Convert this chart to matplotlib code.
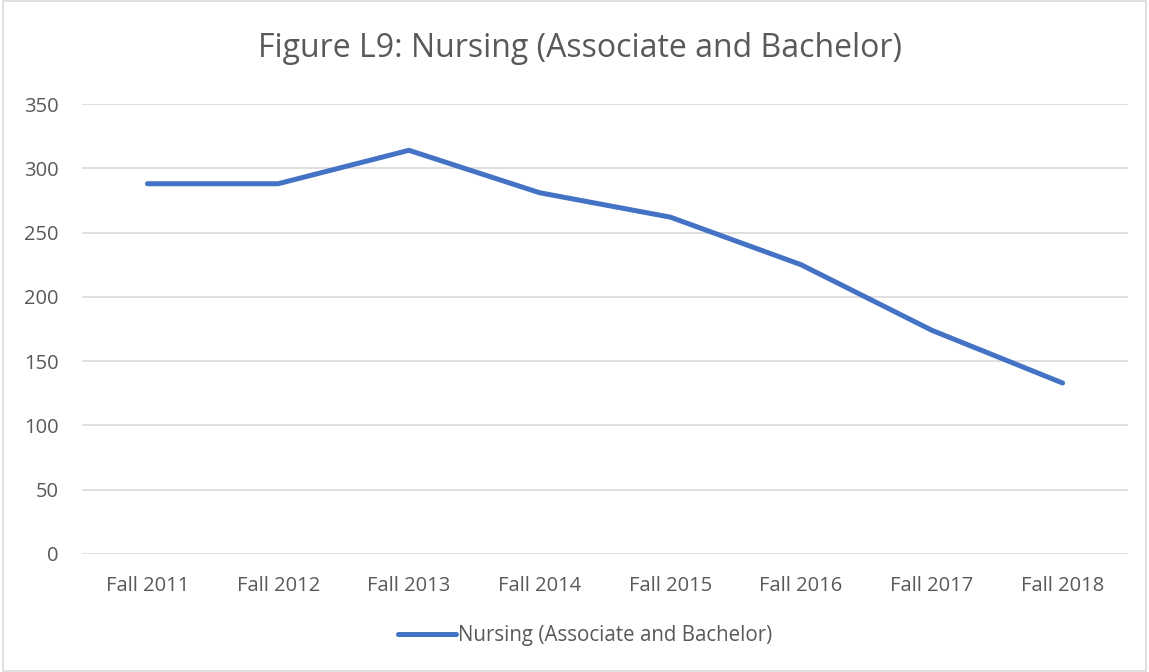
import matplotlib.pyplot as plt
from matplotlib.patches import Rectangle

plt.rcParams['font.family'] = ['Open Sans', 'DejaVu Sans']

# data
terms = ['Fall 2011', 'Fall 2012', 'Fall 2013', 'Fall 2014',
         'Fall 2015', 'Fall 2016', 'Fall 2017', 'Fall 2018']
nursing = [288, 288, 314, 281, 262, 225, 174, 133]
series_name = 'Nursing (Associate and Bachelor)'

text_col = '#595959'

fig = plt.figure(figsize=(11.49, 6.72), dpi=100)
ax = fig.add_axes([0.0714, 0.1756, 0.9103, 0.6696])

x = range(len(terms))
ax.plot(x, nursing, color='#4472C4', linewidth=3.6, solid_capstyle='round',
        label=series_name)

ax.set_xlim(-0.5, len(terms) - 0.5)
ax.set_ylim(0, 350)
ax.set_yticks(range(0, 351, 50))
ax.set_xticks(list(x))
ax.set_xticklabels(terms)
ax.grid(axis='y', color='#d9d9d9', linewidth=1.2)
ax.set_axisbelow(True)
for s in ax.spines.values():
    s.set_visible(False)
ax.tick_params(length=0, labelsize=14.5, colors=text_col)
ax.tick_params(axis='x', pad=15.5)
ax.tick_params(axis='y', pad=17)

fig.text(0.505, 0.928, 'Figure L9: Nursing (Associate and Bachelor)',
         ha='center', va='center', fontsize=23, color=text_col)

fig.legend(loc='center', bbox_to_anchor=(0.509, 0.054), frameon=False,
           fontsize=14.8, labelcolor=text_col, handlelength=2.8,
           handletextpad=0.1)

# thin frame around the whole chart
fig.patches.append(Rectangle((0.003, 0.002), 0.994, 0.996, transform=fig.transFigure,
                             fill=False, edgecolor='#d9d9d9', linewidth=1.2))

fig.savefig('out.png', dpi=100)
